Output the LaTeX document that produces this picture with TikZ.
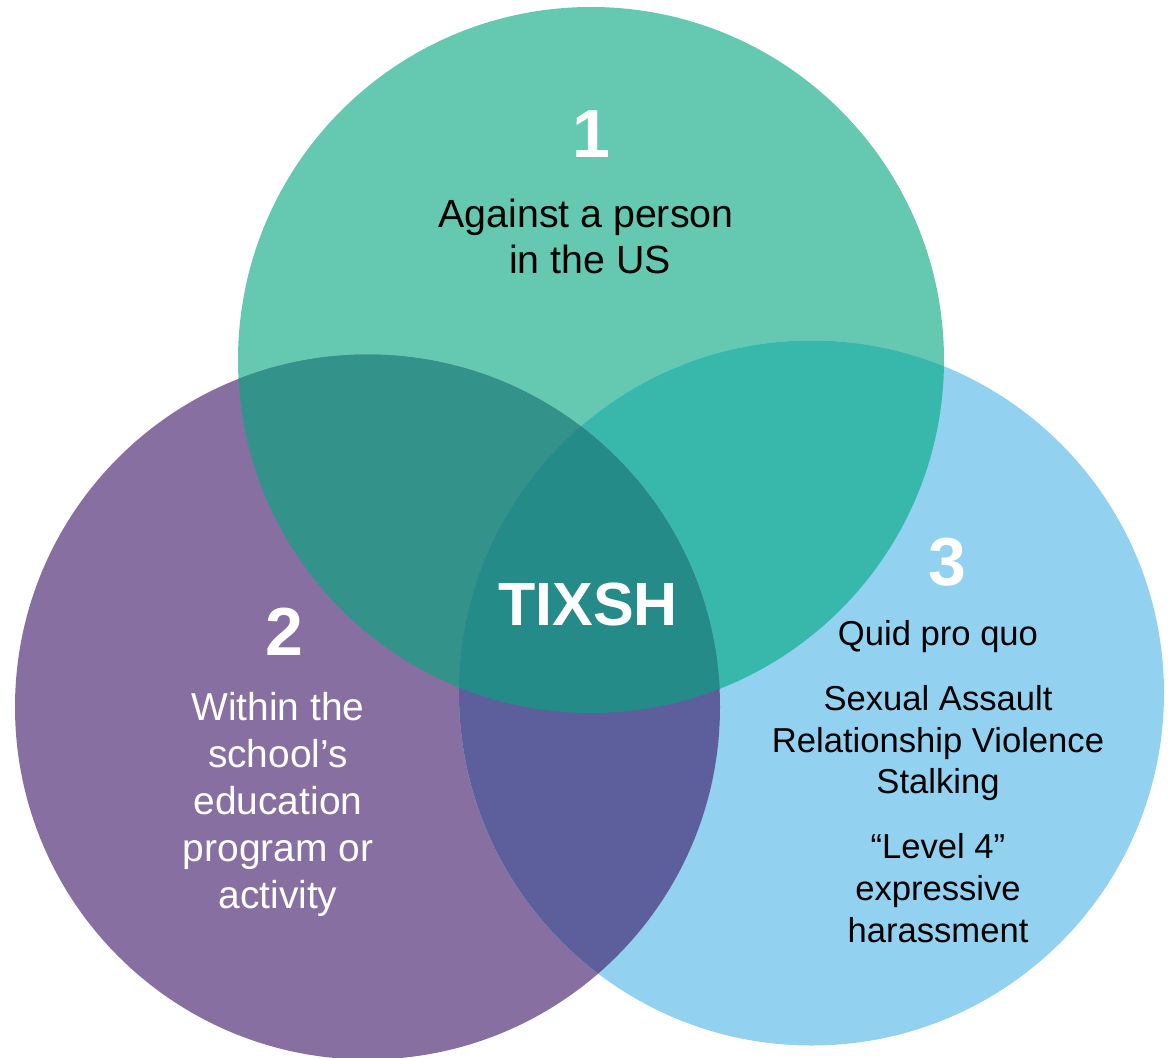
\documentclass[tikz,border=0pt]{standalone}
\usepackage{fontspec}
\setmainfont{Liberation Sans}
\definecolor{cone}{HTML}{64C9B0}
\definecolor{ctwo}{HTML}{8770A1}
\definecolor{cthree}{HTML}{92D1F0}
\definecolor{conetwo}{HTML}{33928A}
\definecolor{conethree}{HTML}{38B8AA}
\definecolor{ctwothree}{HTML}{5D5E9C}
\definecolor{call}{HTML}{248B88}
\begin{document}
\begin{tikzpicture}[x=1pt,y=-1pt,
  numlabel/.style={anchor=base,inner sep=0pt,text=white,font=\bfseries\fontsize{68}{68}\selectfont},
  biglabel/.style={anchor=base,inner sep=0pt,text=white,font=\bfseries\fontsize{61}{61}\selectfont},
  onetext/.style={anchor=base,inner sep=0pt,text=black,font=\fontsize{39.3}{46}\selectfont},
  twotext/.style={anchor=base,inner sep=0pt,text=white,font=\fontsize{38.9}{47}\selectfont},
  threetext/.style={anchor=base,inner sep=0pt,text=black,font=\fontsize{34.6}{42}\selectfont}]
\useasboundingbox (0,0) rectangle (1168,1058);
\coordinate (A) at (591,360);
\coordinate (B) at (367.5,707);
\coordinate (C) at (811.5,693);
\def\rA{353}
\def\rB{352.5}
\def\rC{352.5}
% single circles
\fill[cone] (A) circle (\rA);
\fill[ctwo] (B) circle (\rB);
\fill[cthree] (C) circle (\rC);
% pairwise overlaps
\begin{scope}
  \clip (A) circle (\rA);
  \fill[conetwo] (B) circle (\rB);
  \fill[conethree] (C) circle (\rC);
\end{scope}
\begin{scope}
  \clip (B) circle (\rB);
  \fill[ctwothree] (C) circle (\rC);
\end{scope}
% triple overlap
\begin{scope}
  \clip (A) circle (\rA);
  \clip (B) circle (\rB);
  \fill[call] (C) circle (\rC);
\end{scope}
% circle 1 texts
\node[numlabel] (n1) at (591,157) {1};
\node[onetext] (t1a) at (586,227) {Against a person};
\node[onetext] (t1b) at (590,273) {in the US};
% circle 2 texts
\node[numlabel] (n2) at (284,655) {2};
\node[twotext] (t2a) at (278,720) {Within the};
\node[twotext] (t2b) at (278,767) {school’s};
\node[twotext] (t2c) at (278,814) {education};
\node[twotext] (t2d) at (278,861) {program or};
\node[twotext] (t2e) at (278,908) {activity};
% circle 3 texts
\node[numlabel] (n3) at (947,585) {3};
\node[threetext] (t3a) at (938,645) {Quid pro quo};
\node[threetext] (t3b) at (938,710) {Sexual Assault};
\node[threetext] (t3c) at (938,752) {Relationship Violence};
\node[threetext] (t3d) at (938,793) {Stalking};
\node[threetext] (t3e) at (938,858) {“Level 4”};
\node[threetext] (t3f) at (938,900) {expressive};
\node[threetext] (t3g) at (938,942) {harassment};
% centre
\node[biglabel] (tix) at (588,625) {TIXSH};
\end{tikzpicture}
\end{document}
